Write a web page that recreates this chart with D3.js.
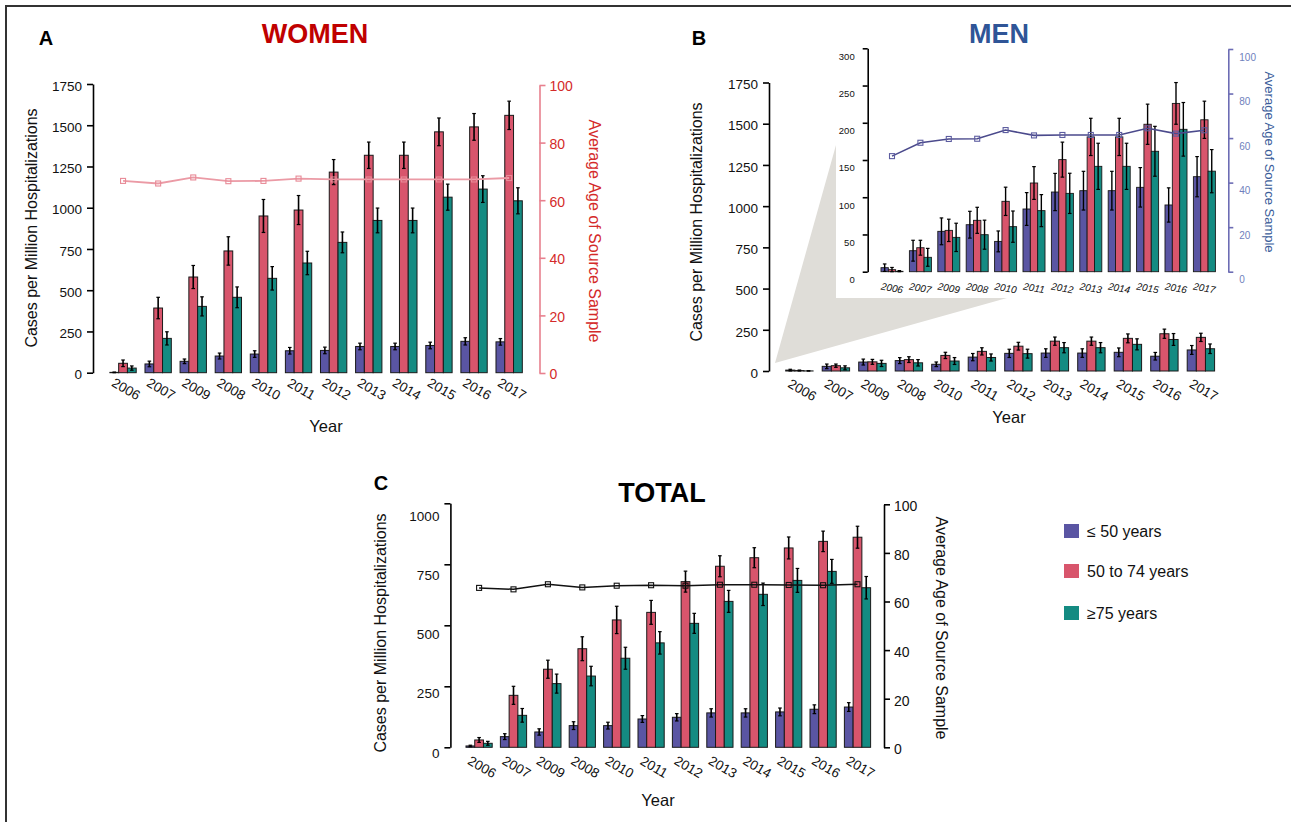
<!DOCTYPE html>
<html><head><meta charset="utf-8">
<script src="https://cdn.jsdelivr.net/npm/d3@7"></script>
<style>
body{margin:0;background:#fff}
svg{display:block}
text{font-family:"Liberation Sans",Arial,Helvetica,sans-serif}
</style>
</head><body>
<svg id="chart" width="1291" height="822"></svg>
<script>
// ---------------- DATA ----------------
const years = ["2006","2007","2009","2008","2010","2011","2012","2013","2014","2015","2016","2017"];
const ageGroups = ["≤ 50 years","50 to 74 years","≥75 years"];
const groupColors = ["#5a55a3","#d8556c","#148b82"];

const casesTicks = [0,250,500,750,1000,1250,1500,1750];
const insetTicks = [0,50,100,150,200,250,300];
const totalTicks = [0,250,500,750,1000];
const ageTicks = [0,20,40,60,80,100];

// WOMEN
const womenLe50      = [2,53,69,101,113,133,135,159,159,165,190,187];
const womenLe50Err   = [2,17,14,18,20,20,20,20,20,20,22,20];
const women50to74    = [57,392,580,738,950,986,1216,1318,1318,1460,1490,1560];
const women50to74Err = [20,65,70,86,100,88,76,80,80,84,81,86];
const womenGe75      = [28,208,402,457,572,665,790,923,923,1064,1113,1042];
const womenGe75Err   = [13,40,58,63,71,71,63,75,75,79,81,79];
const womenAge       = [66.7,65.8,67.9,66.6,66.7,67.5,67.2,67.2,67.2,67.2,67.2,67.7];

// MEN
const menLe50      = [5.4,28.2,54.2,63.1,40.7,84.2,107,108.8,108.8,113.3,89.6,127.6];
const menLe50Err   = [5,14,18,18,14,22,25,26,26,26.5,23,27];
const men50to74    = [2.7,32.2,55.5,69,94.5,119.1,150.5,181,181,198,226,204];
const men50to74Err = [3,10,15,17.5,19,22,23.5,25,25,27,28,25];
const menGe75      = [0.5,19.3,46.1,49.7,60.5,82,105.2,141.5,141.5,161.7,191.2,135];
const menGe75Err   = [1,12,19,19.5,21,21.5,27,31,31,33.5,36,29];
const menAge       = [51.9,57.9,59.6,59.7,63.6,61.2,61.4,61.4,61.4,64.4,62,63.5];

// TOTAL
const totalLe50      = [5.5,43.7,62.8,88.8,88.8,116,123,141,141,145,156,165];
const totalLe50Err   = [3,12,13,16,14,14,15,17,17,16,18,18];
const total50to74    = [30,213,320,404,522,553,679,742,777,817,844,861];
const total50to74Err = [10,37,37,49,56,49,43,43,41,45,42,45];
const totalGe75      = [16.4,131,261,292,365,428,508,598,627,684,721,654];
const totalGe75Err   = [8,28,39,40,45,46,41,45,46,49,49,46];
const totalAge       = [65.6,65.0,67.1,65.8,66.5,66.7,66.5,66.9,66.9,66.8,66.7,67.1];

// ---------------- DRAWING ----------------
const svg = d3.select("#chart");
const fmt = d3.format("d");

// frame
svg.append("path").attr("d","M6,822 V6 H1291").attr("fill","none").attr("stroke","#333").attr("stroke-width",2);

function drawPanel(o) {
  const g = svg.append("g");
  const x = d3.scaleBand().domain(years).range(o.xRange).paddingInner(o.padIn).paddingOuter(o.padIn/2);
  const y = d3.scaleLinear().domain(o.yDomain).range(o.yRange);
  const sub = d3.scaleBand().domain([0,1,2]).range([0, x.bandwidth()]);
  const series = o.series, errs = o.errs;

  // bars
  series.forEach((s,k)=>{
    g.append("g").selectAll("rect").data(s).join("rect")
      .attr("x",(d,i)=>x(years[i])+sub(k))
      .attr("y",d=>y(d))
      .attr("width",sub.bandwidth())
      .attr("height",d=>Math.max(0,y(0)-y(d)))
      .attr("fill",groupColors[k])
      .attr("stroke","#1a1a1a").attr("stroke-width",o.barStroke||1);
  });
  // error bars
  series.forEach((s,k)=>{
    const eg = g.append("g").attr("stroke","#000").attr("stroke-width",o.errW||1.6);
    s.forEach((v,i)=>{
      const cx = x(years[i])+sub(k)+sub.bandwidth()/2;
      const lo = y(Math.max(0,v-errs[k][i])), hi = y(v+errs[k][i]);
      eg.append("line").attr("x1",cx).attr("x2",cx).attr("y1",lo).attr("y2",hi);
      eg.append("line").attr("x1",cx-1.8).attr("x2",cx+1.8).attr("y1",lo).attr("y2",lo).attr("stroke-width",1.2);
      eg.append("line").attr("x1",cx-1.8).attr("x2",cx+1.8).attr("y1",hi).attr("y2",hi).attr("stroke-width",1.2);
    });
  });

  // left axis
  const ya = g.append("g").attr("transform",`translate(${o.axisX},0)`)
    .call(d3.axisLeft(y).tickValues(o.yTicks).tickFormat(fmt).tickSize(o.tickLen||6).tickSizeOuter(0).tickPadding(o.tickPad||5));
  ya.select(".domain").attr("stroke","#000").attr("stroke-width",1.6);
  ya.selectAll(".tick line").attr("stroke","#000").attr("stroke-width",1.6);
  ya.selectAll(".tick text").attr("fill","#111").style("font-size",o.tickFont+"px")
    .attr("dy",d=>(o.labelShift?o.labelShift(d):1.5)+o.tickFont*0.35+"px");

  // x labels
  const xl = g.append("g");
  years.forEach((yr)=>{
    xl.append("text")
      .attr("transform",`translate(${x(yr)+x.bandwidth()/2+o.xLabDx},${o.xLabY}) rotate(${o.xLabRot})`)
      .attr("text-anchor","middle").attr("dy","0.35em")
      .style("font-size",o.xLabFont+"px").style("font-style",o.xLabStyle||"normal")
      .attr("fill","#111").text(yr);
  });

  // age line
  if (o.age) {
    const ya2 = d3.scaleLinear().domain([0,100]).range(o.ageRange);
    const ra = g.append("g").attr("transform",`translate(${o.rAxisX},0)`)
      .call(d3.axisRight(ya2).tickValues(ageTicks).tickFormat(fmt).tickSize(o.tickLen||6).tickSizeOuter(0).tickPadding(o.rTickPad||4));
    ra.select(".domain").attr("stroke",o.rAxisColor).attr("stroke-width",1.6);
    ra.selectAll(".tick line").attr("stroke",o.rAxisColor).attr("stroke-width",1.6);
    ra.selectAll(".tick text").attr("fill",o.rTickColor).style("font-size",o.rTickFont+"px")
      .attr("dy",(o.rLabelShift||1)+o.rTickFont*0.35+"px");
    const line = d3.line().x((d,i)=>x(years[i])+x.bandwidth()/2).y(d=>ya2(d));
    g.append("path").datum(o.age).attr("d",line).attr("fill","none")
      .attr("stroke",o.lineColor).attr("stroke-width",o.lineW||1.8);
    g.append("g").selectAll("rect").data(o.age).join("rect")
      .attr("x",(d,i)=>x(years[i])+x.bandwidth()/2-2.5).attr("y",d=>ya2(d)-2.5)
      .attr("width",5).attr("height",5).attr("fill","none")
      .attr("stroke",o.markerColor||o.lineColor).attr("stroke-width",1.1);
    if (o.rTitle) {
      g.append("text").attr("transform",`translate(${o.rTitle.x},${o.rTitle.y}) rotate(90)`)
        .attr("text-anchor","middle").attr("dy","0.35em")
        .style("font-size",o.rTitle.size+"px").attr("fill",o.rTitle.color).text("Average Age of Source Sample");
    }
  }
  if (o.yTitle) {
    g.append("text").attr("transform",`translate(${o.yTitle.x},${o.yTitle.y}) rotate(-90)`)
      .attr("text-anchor","middle").attr("dy","0.35em")
      .style("font-size",o.yTitle.size+"px").attr("fill","#111").text("Cases per Million Hospitalizations");
  }
  if (o.xTitle) {
    g.append("text").attr("x",o.xTitle.x).attr("y",o.xTitle.y).attr("text-anchor","middle")
      .style("font-size",o.xTitle.size+"px").attr("fill","#111").text("Year");
  }
  return g;
}

// ---- Panel A: WOMEN ----
drawPanel({
  xRange:[105.5,526.7], padIn:0.25,
  yDomain:[0,1750], yRange:[372.7,84], yTicks:casesTicks, axisX:93, tickFont:13.5,
  series:[womenLe50,women50to74,womenGe75], errs:[womenLe50Err,women50to74Err,womenGe75Err],
  xLabY:389, xLabDx:3, xLabRot:30, xLabFont:13.5,
  age:womenAge, ageRange:[373,85], rAxisX:539.5, rAxisColor:"#e8808e", rTickColor:"#d42a2a", rTickFont:14,
  lineColor:"#eb9aa5", markerColor:"#e88a97",
  rTitle:{x:595,y:231,size:16,color:"#d42a2a"},
  yTitle:{x:31,y:228,size:16}, xTitle:{x:326,y:432,size:16.5}
});

// ---- Panel B: MEN (main) ----
// zoom shadow
svg.append("path").attr("d","M836,145 L775,363 L1007,298 L836,298 Z").attr("fill","#dfddd8");
drawPanel({
  xRange:[781.15,1219.15], padIn:0.25,
  yDomain:[0,1750], yRange:[371,82.5], yTicks:casesTicks, axisX:769, tickFont:13.5,
  series:[menLe50,men50to74,menGe75], errs:[menLe50Err,men50to74Err,menGe75Err],
  xLabY:390, xLabDx:3, xLabRot:30, xLabFont:13.5,
  yTitle:{x:696,y:222,size:16}, xTitle:{x:1009,y:423,size:16.5}
});
// ---- Panel B: MEN inset ----
svg.append("rect").attr("x",836).attr("y",40).attr("width",455).attr("height",258).attr("fill","#fff");
drawPanel({
  xRange:[877.8,1218.6], padIn:0.225,
  yDomain:[0,300], yRange:[271.7,48.3], yTicks:insetTicks, axisX:867.7, tickFont:9.5, tickLen:5, tickPad:8,
  labelShift:()=>7.5, barStroke:0.9, errW:1.4,
  series:[menLe50,men50to74,menGe75], errs:[menLe50Err,men50to74Err,menGe75Err],
  xLabY:288, xLabDx:0, xLabRot:10, xLabFont:10, xLabStyle:"italic",
  age:menAge, ageRange:[271.7,49], rAxisX:1228.3, rAxisColor:"#6c6cb4", rTickColor:"#6f7fbd", rTickFont:10, rTickPad:6, rLabelShift:7.5,
  lineColor:"#4b4a8c", markerColor:"#5d5da0", lineW:1.6,
  rTitle:{x:1270,y:162,size:13,color:"#3a5c99"}
});

// ---- Panel C: TOTAL ----
drawPanel({
  xRange:[461.9,874.7], padIn:0.238,
  yDomain:[0,1000], yRange:[747.3,503.3], yTicks:totalTicks, axisX:450.4, tickFont:13.5,
  labelShift:d=>5+7*d/1000,
  series:[totalLe50,total50to74,totalGe75], errs:[totalLe50Err,total50to74Err,totalGe75Err],
  xLabY:767, xLabDx:3, xLabRot:30, xLabFont:13.5,
  age:totalAge, ageRange:[747.3,504.3], rAxisX:884, rAxisColor:"#000", rTickColor:"#111", rTickFont:14, rLabelShift:1.5,
  lineColor:"#111", lineW:1.5,
  rTitle:{x:942,y:628,size:16,color:"#111"},
  yTitle:{x:380,y:633,size:16}, xTitle:{x:658,y:806,size:16.5}
});

// ---- Titles & panel letters ----
const titles = [
  {t:"A",x:46,y:45,size:20,color:"#000",anchor:"middle"},
  {t:"WOMEN",x:315,y:43,size:27,color:"#c00000",anchor:"middle"},
  {t:"B",x:699,y:45,size:20,color:"#000",anchor:"middle"},
  {t:"MEN",x:999,y:43,size:27,color:"#2f5597",anchor:"middle"},
  {t:"C",x:381,y:490,size:20,color:"#000",anchor:"middle"},
  {t:"TOTAL",x:662,y:502,size:27,color:"#000",anchor:"middle"}
];
titles.forEach(d=>svg.append("text").attr("x",d.x).attr("y",d.y).attr("text-anchor",d.anchor)
  .style("font-size",d.size+"px").style("font-weight","bold").attr("fill",d.color).text(d.t));

// ---- Legend ----
const leg = svg.append("g");
ageGroups.forEach((lab,i)=>{
  const cy = [531,571,613][i];
  leg.append("rect").attr("x",1064).attr("y",cy-7).attr("width",15).attr("height",14).attr("fill",groupColors[i]);
  leg.append("text").attr("x",1087).attr("y",cy).attr("dy","0.35em").style("font-size","16px").attr("fill","#111").text(lab);
});
</script>
</body></html>
